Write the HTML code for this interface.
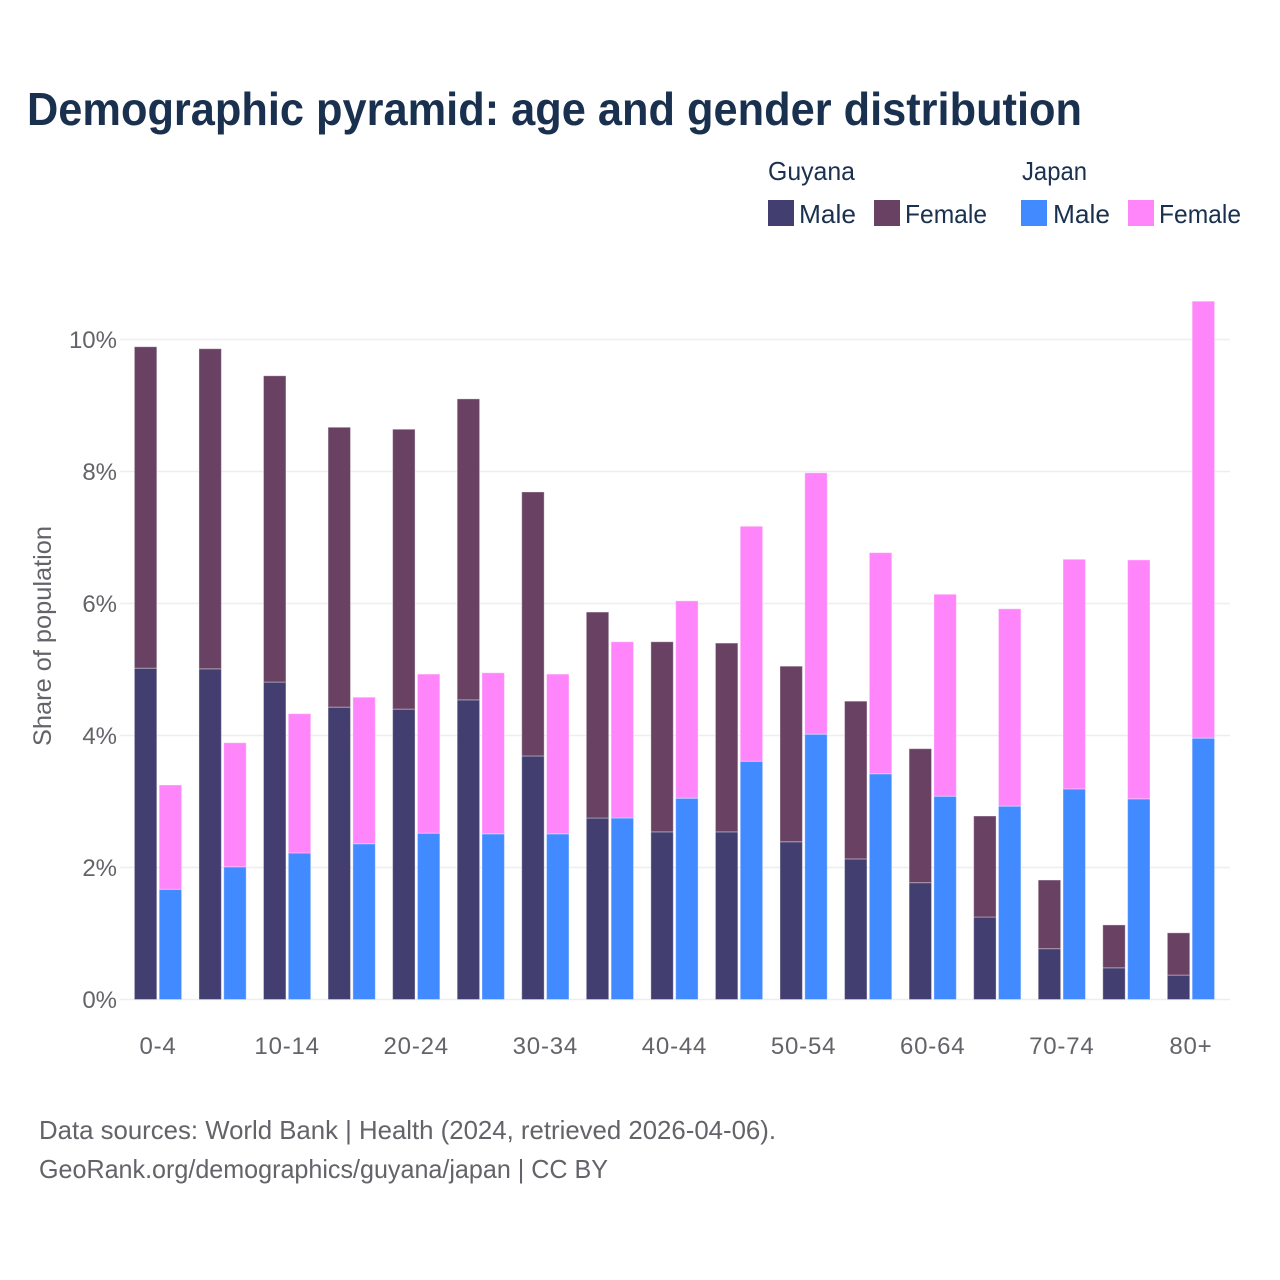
<!DOCTYPE html>
<html>
<head>
<meta charset="utf-8">
<title>Demographic pyramid</title>
<style>
html,body{margin:0;padding:0;background:#fff;width:1280px;height:1280px;overflow:hidden}
svg{display:block}
text{font-family:"Liberation Sans",sans-serif}
</style>
</head>
<body>
<svg id="chart" width="1280" height="1280" viewBox="0 0 1280 1280" xmlns="http://www.w3.org/2000/svg">
  <rect width="1280" height="1280" fill="#ffffff"/>
  <text x="27" y="125" font-size="46" font-weight="700" fill="#1a304f" textLength="1055" lengthAdjust="spacingAndGlyphs">Demographic pyramid: age and gender distribution</text>

  <g font-size="26" fill="#1a304f">
    <text x="768" y="180" textLength="87" lengthAdjust="spacingAndGlyphs">Guyana</text>
    <text x="1022" y="180" textLength="65" lengthAdjust="spacingAndGlyphs">Japan</text>
    <rect x="768" y="200" width="26" height="26" fill="#423e70"/>
    <text x="799" y="223" textLength="57" lengthAdjust="spacingAndGlyphs">Male</text>
    <rect x="874" y="200" width="26" height="26" fill="#694163"/>
    <text x="905" y="223" textLength="82" lengthAdjust="spacingAndGlyphs">Female</text>
    <rect x="1021" y="200" width="26" height="26" fill="#428aff"/>
    <text x="1053" y="223" textLength="57" lengthAdjust="spacingAndGlyphs">Male</text>
    <rect x="1128" y="200" width="26" height="26" fill="#ff85fa"/>
    <text x="1159" y="223" textLength="82" lengthAdjust="spacingAndGlyphs">Female</text>
  </g>

  <g id="grid"></g>
  <g id="bars"></g>
  <g id="yticks"></g>
  <g id="xticks"></g>

  <text transform="translate(51,746) rotate(-90)" font-size="25" fill="#636369" textLength="220" lengthAdjust="spacingAndGlyphs">Share of population</text>

  <text x="39" y="1139" font-size="26" fill="#636369" textLength="737" lengthAdjust="spacingAndGlyphs">Data sources: World Bank | Health (2024, retrieved 2026-04-06).</text>
  <text x="39" y="1178" font-size="26" fill="#636369" textLength="569" lengthAdjust="spacingAndGlyphs">GeoRank.org/demographics/guyana/japan | CC BY</text>
</svg>
<script>
var categories = ['0-4','5-9','10-14','15-19','20-24','25-29','30-34','35-39','40-44','45-49','50-54','55-59','60-64','65-69','70-74','75-79','80+'];
var guyanaMale = [5.02,5.01,4.81,4.43,4.40,4.54,3.69,2.75,2.54,2.54,2.39,2.13,1.77,1.25,0.77,0.48,0.37];
var guyanaFemale = [4.87,4.85,4.64,4.24,4.24,4.56,4.00,3.12,2.88,2.86,2.66,2.39,2.03,1.53,1.04,0.65,0.64];
var japanMale = [1.67,2.01,2.22,2.36,2.52,2.51,2.51,2.75,3.05,3.61,4.02,3.42,3.08,2.93,3.19,3.04,3.96];
var japanFemale = [1.58,1.88,2.11,2.22,2.41,2.44,2.42,2.67,2.99,3.56,3.96,3.35,3.06,2.99,3.48,3.62,6.62];
var yTicks = [0,2,4,6,8,10];

var NS = 'http://www.w3.org/2000/svg';
function yScale(v){ return 999.5 - v * 66; }
function xScale(i){ return 158 + i * 64.56; }
var BAR_W = 22.4, OFFSET = 12.4;

function make(tag, attrs, parent){
  var el = document.createElementNS(NS, tag);
  for (var k in attrs) el.setAttribute(k, attrs[k]);
  parent.appendChild(el);
  return el;
}

var grid = document.getElementById('grid');
var yt = document.getElementById('yticks');
yTicks.forEach(function(t){
  var line = make('line', {x1:120, x2:1230, y1:yScale(t), y2:yScale(t), stroke:'#eeeeef', 'stroke-width':1.5}, grid);
  
  
  var lab = make('text', {x:117, y:yScale(t)+8.5, 'text-anchor':'end', 'font-size':24, fill:'#636369'}, yt);
  
  
  lab.textContent = t + '%';
});

var bars = document.getElementById('bars');
function stacked(i, cx, male, female, cMale, cFemale, country){
  var top1 = yScale(male), top2 = yScale(male + female), base = yScale(0);
  var a = make('rect', {x:cx-BAR_W/2, y:top1, width:BAR_W, height:base-top1, fill:cMale, stroke:'rgba(255,255,255,0.35)', 'stroke-width':1}, bars);
  
  
  var b = make('rect', {x:cx-BAR_W/2, y:top2, width:BAR_W, height:top1-top2, fill:cFemale, stroke:'rgba(255,255,255,0.35)', 'stroke-width':1}, bars);
  
  
}
categories.forEach(function(c, i){
  stacked(i, xScale(i)-OFFSET, guyanaMale[i], guyanaFemale[i], '#423e70', '#694163', 'guyana');
  stacked(i, xScale(i)+OFFSET, japanMale[i], japanFemale[i], '#428aff', '#ff85fa', 'japan');
});

var xt = document.getElementById('xticks');
categories.forEach(function(c, i){
  if (i % 2) return;
  var lab = make('text', {x:xScale(i), y:1054, 'text-anchor':'middle', 'font-size':24, fill:'#636369', 'letter-spacing':'0.8'}, xt);
  
  
  lab.textContent = c;
});
</script>
</body>
</html>
